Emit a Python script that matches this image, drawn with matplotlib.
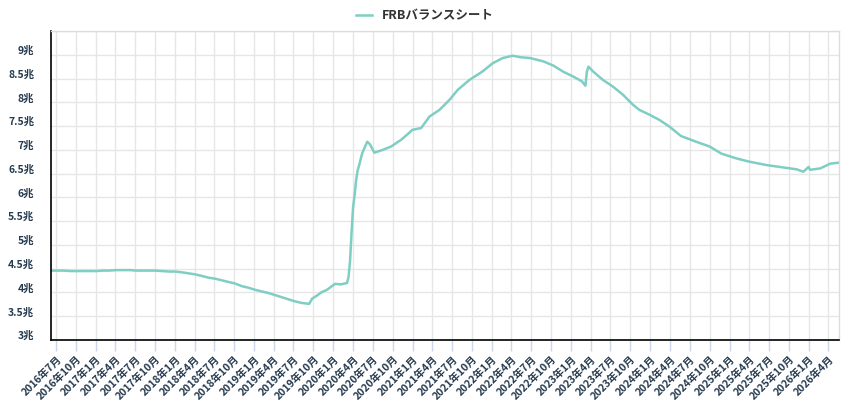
import pandas as pd
import matplotlib.pyplot as plt
import matplotlib.dates as mdates
from matplotlib.transforms import ScaledTranslation

plt.rcParams['font.family'] = ['Noto Sans CJK JP', 'DejaVu Sans']

# データ (兆ドル)
fechas = [
    "2016-06-08", "2016-07-06", "2016-08-03", "2016-09-07", "2016-10-05", "2016-11-02",
    "2016-12-07", "2017-01-04", "2017-02-01", "2017-03-01", "2017-04-05", "2017-05-03",
    "2017-06-07", "2017-07-05", "2017-08-02", "2017-09-06", "2017-10-04", "2017-11-01",
    "2017-12-06", "2018-01-03", "2018-02-07", "2018-03-07", "2018-04-04", "2018-05-02",
    "2018-06-06", "2018-07-04", "2018-08-01", "2018-09-05", "2018-10-03", "2018-11-07",
    "2018-12-05", "2019-01-02", "2019-02-06", "2019-03-06", "2019-04-03", "2019-05-01",
    "2019-06-05", "2019-07-03", "2019-08-07", "2019-09-11", "2019-09-25", "2019-10-16",
    "2019-11-06", "2019-12-04", "2020-01-08", "2020-02-05", "2020-03-04", "2020-03-11",
    "2020-03-18", "2020-03-25", "2020-04-01", "2020-04-08", "2020-04-15", "2020-04-22",
    "2020-04-29", "2020-05-13", "2020-05-27", "2020-06-05", "2020-06-17", "2020-07-08",
    "2020-08-16", "2020-09-23", "2020-11-08", "2020-12-16", "2020-12-30", "2021-02-09",
    "2021-03-19", "2021-05-04", "2021-06-19", "2021-07-27", "2021-09-19", "2021-11-19",
    "2022-01-04", "2022-02-19", "2022-04-06", "2022-05-11", "2022-06-27", "2022-08-27",
    "2022-10-12", "2022-11-27", "2023-01-12", "2023-02-20", "2023-03-08", "2023-03-15",
    "2023-03-22", "2023-04-12", "2023-05-28", "2023-07-13", "2023-08-28", "2023-10-13",
    "2023-11-12", "2023-12-28", "2024-02-12", "2024-03-29", "2024-05-22", "2024-07-31",
    "2024-10-01", "2024-11-24", "2025-02-01", "2025-04-03", "2025-06-20", "2025-08-21",
    "2025-11-06", "2025-12-07", "2025-12-31", "2026-01-07", "2026-02-23", "2026-04-10",
    "2026-05-20",
]
valores = [
    4.46, 4.46, 4.46, 4.45, 4.45, 4.45,
    4.45, 4.45, 4.46, 4.46, 4.47, 4.47,
    4.47, 4.46, 4.46, 4.46, 4.46, 4.45,
    4.44, 4.44, 4.42, 4.40, 4.38, 4.35,
    4.31, 4.29, 4.26, 4.22, 4.19, 4.13,
    4.10, 4.06, 4.02, 3.99, 3.95, 3.91,
    3.86, 3.82, 3.78, 3.76, 3.87, 3.93,
    4.00, 4.06, 4.18, 4.17, 4.20, 4.33,
    4.67, 5.28, 5.80, 6.05, 6.37, 6.57,
    6.68, 6.93, 7.08, 7.17, 7.12, 6.94,
    7.00, 7.07, 7.21, 7.36, 7.42, 7.46,
    7.70, 7.84, 8.05, 8.26, 8.47, 8.65,
    8.82, 8.93, 8.98, 8.95, 8.93, 8.86,
    8.77, 8.64, 8.54, 8.44, 8.35, 8.65,
    8.75, 8.65, 8.47, 8.33, 8.16, 7.95,
    7.84, 7.74, 7.63, 7.49, 7.29, 7.17,
    7.07, 6.92, 6.82, 6.75, 6.68, 6.64,
    6.59, 6.54, 6.64, 6.58, 6.61, 6.71,
    6.73,
]
serie = "FRBバランスシート"

# 四半期ごとの目盛り
trimestres = pd.date_range("2016-07-01", "2026-04-01", freq="QS-JAN")
etiquetas_x = [f"{d.year}年{d.month}月" for d in trimestres]
ticks_y = [3 + 0.5 * i for i in range(13)]
etiquetas_y = [f"{v:g}兆" for v in ticks_y]

cor = '#7ecec4'
texto = '#253a4e'
x = pd.to_datetime(fechas)

fig = plt.figure(figsize=(8.5, 4), dpi=100)
ax = fig.add_axes([0.06, 0.15, 0.927, 0.7725])

ax.plot(x, valores, color=cor, linewidth=1.8, label=serie)

ax.set_xlim(x[0], x[-1])
ax.set_ylim(3, 9.5)

ax.set_xticks(trimestres)
ax.set_xticklabels(etiquetas_x, rotation=45, ha='right', va='top',
                   rotation_mode='anchor', fontsize=7.5, fontweight='bold', color=texto)
ax.set_yticks(ticks_y)
ax.set_yticklabels(etiquetas_y, fontsize=7.5, fontweight='bold', color=texto)

ax.tick_params(axis='x', length=8, width=1, color='#ccd6eb', pad=2)
ax.tick_params(axis='y', length=0, pad=12)
for lbl in ax.get_yticklabels():
    lbl.set_transform(lbl.get_transform() + ScaledTranslation(0, 0.05, fig.dpi_scale_trans))

ax.grid(True, color='#e6e6e6', linewidth=1)
ax.set_axisbelow(True)
ax.axhline(9.5, color='#e6e6e6', linewidth=1, zorder=0)

for lado in ['left', 'bottom']:
    ax.spines[lado].set_color('black')
    ax.spines[lado].set_linewidth(1.2)
for lado in ['top', 'right']:
    ax.spines[lado].set_color('#dddddd')
    ax.spines[lado].set_linewidth(1)

fig.legend(loc='center', bbox_to_anchor=(0.5, 0.96), frameon=False,
           handlelength=1.3, prop={'weight': 'bold', 'size': 9})
for t in fig.legends[0].get_texts():
    t.set_color('#333333')

plt.savefig('out.png', dpi=100)
